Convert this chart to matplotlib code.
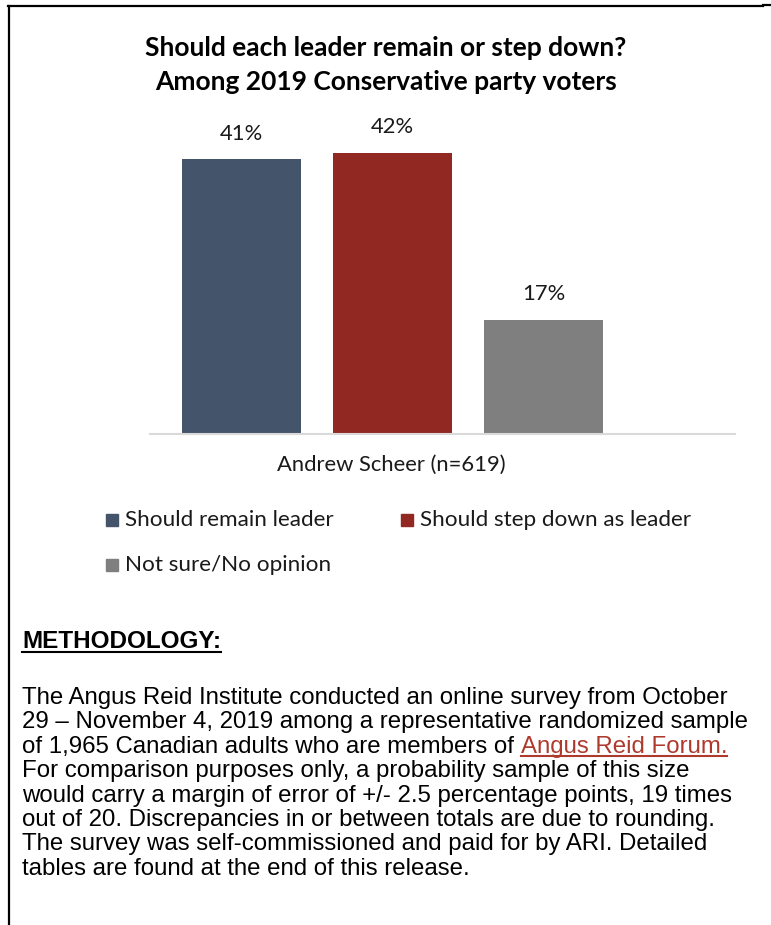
import matplotlib.pyplot as plt
from matplotlib.patches import Rectangle
from matplotlib.lines import Line2D

W, H = 771, 925

categories = ["Andrew Scheer (n=619)"]
series = ["Should remain leader", "Should step down as leader", "Not sure/No opinion"]
values = [41, 42, 17]
colors = ["#44546A", "#922822", "#7F7F7F"]

title_lines = ["Should each leader remain or step down?",
               "Among 2019 Conservative party voters"]

method_lines = [
    "The Angus Reid Institute conducted an online survey from October",
    "29 \u2013 November 4, 2019 among a representative randomized sample",
    "of 1,965 Canadian adults who are members of ",
    "For comparison purposes only, a probability sample of this size",
    "would carry a margin of error of +/- 2.5 percentage points, 19 times",
    "out of 20. Discrepancies in or between totals are due to rounding.",
    "The survey was self-commissioned and paid for by ARI. Detailed",
    "tables are found at the end of this release.",
]
link_text = "Angus Reid Forum."

CHART_FONT = ["Lato", "DejaVu Sans"]
BODY_FONT = ["Liberation Sans", "DejaVu Sans"]


def fx(x):
    return x / W


def fy(y):
    return 1 - y / H


fig = plt.figure(figsize=(W / 100, H / 100), dpi=100)
fig.patch.set_facecolor("white")

# bar area: baseline at y=434, 6.7 px per percent
ax_left, ax_right, base = 150, 735, 434
ymax = 50
top = base - ymax * 6.7
ax = fig.add_axes([fx(ax_left), fy(base), (ax_right - ax_left) / W, (base - top) / H])
step = 151
xs = [0, 1, 2]
ax.bar(xs, values, width=119 / step, color=colors, zorder=2)
ax.set_xlim((ax_left - 241.5) / step, (ax_right - 241.5) / step)
ax.set_ylim(0, ymax)
for s in ["top", "right", "left"]:
    ax.spines[s].set_visible(False)
ax.spines["bottom"].set_color("#D9D9D9")
ax.spines["bottom"].set_linewidth(1.5)
ax.set_yticks([])
ax.set_xticks([])
for x, v in zip(xs, values):
    ax.annotate(f"{v}%", (x, v), xytext=(0, 18.5), textcoords="offset points",
                ha="center", va="center", fontsize=15.8, family=CHART_FONT, color="#1a1a1a")

fig.text(fx(391), fy(465), categories[0], ha="center", va="center",
         fontsize=15.8, family=CHART_FONT, color="#1a1a1a")

# title
for i, line in enumerate(title_lines):
    fig.text(fx(386), fy(48 + 34 * i), line, ha="center", va="center",
             fontsize=19, fontweight="bold", family=CHART_FONT, color="black")

# legend
leg_pos = [(106, 520), (401, 520), (106, 565)]
for (lx, ly), name, c in zip(leg_pos, series, colors):
    fig.patches.append(Rectangle((fx(lx), fy(ly + 6)), 12 / W, 12 / H,
                                 transform=fig.transFigure, color=c))
    fig.text(fx(lx + 19), fy(ly), name, ha="left", va="center",
             fontsize=16.2, family=CHART_FONT, color="#1a1a1a")

# border lines
fig.add_artist(Line2D([fx(8), fx(763)], [fy(6), fy(6)], color="black", lw=1.6))
fig.add_artist(Line2D([fx(9), fx(9)], [fy(6), fy(925)], color="black", lw=1.6))
fig.add_artist(Line2D([fx(763), fx(771)], [fy(5), fy(5)], color="black", lw=1.6))

fig.canvas.draw()
renderer = fig.canvas.get_renderer()


def underline(txt, y_px, color):
    bb = txt.get_window_extent(renderer)
    fig.add_artist(Line2D([bb.x0 / W, bb.x1 / W], [fy(y_px), fy(y_px)], color=color, lw=1.5))


head = fig.text(fx(22), fy(648), "METHODOLOGY:", ha="left", va="baseline",
                fontsize=17.5, fontweight="bold", family=BODY_FONT, color="black")
underline(head, 652, "black")

for i, line in enumerate(method_lines):
    yb = 704 + 24.4 * i
    t = fig.text(fx(22), fy(yb), line, ha="left", va="baseline",
                 fontsize=17.3, family=BODY_FONT, color="black")
    if i == 2:
        fig.canvas.draw()
        bb = t.get_window_extent(renderer)
        lt = fig.text(bb.x1 / W, fy(yb), link_text, ha="left", va="baseline",
                      fontsize=17.3, family=BODY_FONT, color="#AE3A2E")
        fig.canvas.draw()
        underline(lt, yb + 3, "#AE3A2E")

fig.savefig("out.png", dpi=100, facecolor="white")
